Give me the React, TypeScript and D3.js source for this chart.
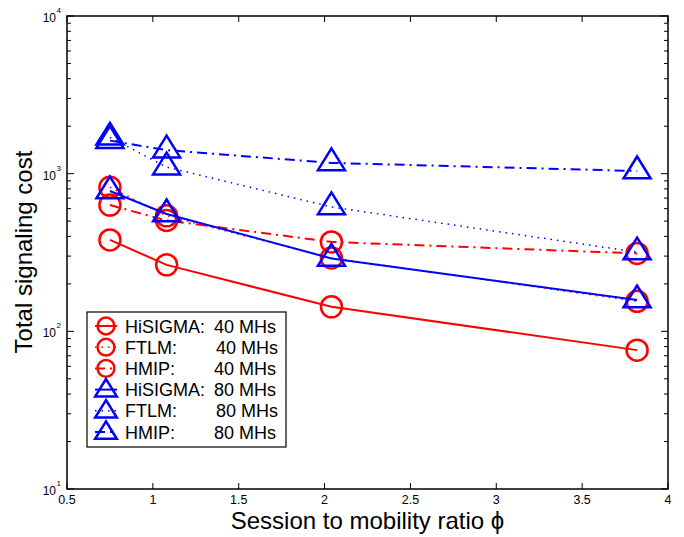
import React from 'react';
import * as d3 from 'd3';

const xValues = [0.75, 1.08, 2.04, 3.82];
const hisigma40 = [380, 264, 143, 76];
const ftlm40 = [820, 540, 292, 155];
const hmip40 = [632, 505, 369, 312];
const hisigma80 = [776, 555, 290, 158];
const ftlm80 = [1700, 1100, 615, 318];
const hmip80 = [1620, 1410, 1170, 1040];

const seriesNames = ['HiSIGMA:', 'FTLM:', 'HMIP:', 'HiSIGMA:', 'FTLM:', 'HMIP:'];
const seriesTags = ['40 MHs', '40 MHs', '40 MHs', '80 MHs', '80 MHs', '80 MHs'];
const xTicks = [0.5, 1, 1.5, 2, 2.5, 3, 3.5, 4];
const xTickLabels = ['0.5', '1', '1.5', '2', '2.5', '3', '3.5', '4'];
const yMajor = [10, 100, 1000, 10000];
const yExponents = ['1', '2', '3', '4'];

const W = 684, H = 537;
const L = 67, R = 668, T = 16, B = 489;
const FONT = '"Liberation Sans", Arial, Helvetica, sans-serif';
const RED = '#ff0000', BLUE = '#0000ff';

type Style = 'solid' | 'dotted' | 'dashdot';
const series = [
  { values: hisigma40, color: RED, style: 'solid' as Style, marker: 'o' },
  { values: ftlm40, color: RED, style: 'dotted' as Style, marker: 'o' },
  { values: hmip40, color: RED, style: 'dashdot' as Style, marker: 'o' },
  { values: hisigma80, color: BLUE, style: 'solid' as Style, marker: '^' },
  { values: ftlm80, color: BLUE, style: 'dotted' as Style, marker: '^' },
  { values: hmip80, color: BLUE, style: 'dashdot' as Style, marker: '^' },
];

function dash(s: Style) {
  if (s === 'dotted') return '1.5,5';
  if (s === 'dashdot') return '10,5,2,5';
  return undefined;
}
function width(s: Style) {
  return s === 'dotted' ? 1.5 : 2;
}

function Marker({ kind, cx, cy, color, scale = 1 }: any) {
  if (kind === 'o') {
    return <circle cx={cx} cy={cy} r={10.5 * scale} fill="none" stroke={color} strokeWidth={2.5} />;
  }
  const r = 14.5 * scale;
  const hw = 13.5 * scale;
  const pts = `${cx},${cy - r} ${cx - hw},${cy + r / 2} ${cx + hw},${cy + r / 2}`;
  return <polygon points={pts} fill="none" stroke={color} strokeWidth={2.5} strokeLinejoin="miter" />;
}

export default function App() {
  const x = d3.scaleLinear().domain([0.5, 4]).range([L, R]);
  const y = d3.scaleLog().domain([10, 10000]).range([B, T]);
  const line = d3.line<[number, number]>().x((d) => x(d[0])).y((d) => y(d[1]));

  const minor: number[] = [];
  for (let dec = 10; dec < 10000; dec *= 10) {
    for (let k = 2; k <= 9; k++) minor.push(dec * k);
  }

  const legX = 87, legY = 312, legW = 199, legH = 135;
  const rowY0 = 326, rowStep = 21.2;

  return (
    <svg width={W} height={H} style={{ position: 'absolute', left: 0, top: 0, background: '#fff' }} fontFamily={FONT}>
      <rect x={0} y={0} width={W} height={H} fill="#fff" />
      {/* ticks */}
      {xTicks.map((t, i) => (
        <g key={'xt' + i}>
          <line x1={x(t)} x2={x(t)} y1={B} y2={B - 6} stroke="#000" strokeWidth={1} />
          <line x1={x(t)} x2={x(t)} y1={T} y2={T + 6} stroke="#000" strokeWidth={1} />
          <text x={x(t)} y={504} fontSize={12.5} textAnchor="middle" fill="#000">{xTickLabels[i]}</text>
        </g>
      ))}
      {yMajor.map((t, i) => (
        <g key={'ym' + i}>
          <line x1={L} x2={L + 7} y1={y(t)} y2={y(t)} stroke="#000" strokeWidth={1} />
          <line x1={R} x2={R - 7} y1={y(t)} y2={y(t)} stroke="#000" strokeWidth={1} />
          <text x={56} y={y(t) + 6} fontSize={12} textAnchor="end" fill="#000">10</text>
          <text x={56.5} y={y(t) - 3} fontSize={8} fill="#000">{yExponents[i]}</text>
        </g>
      ))}
      {minor.map((t, i) => (
        <g key={'yn' + i}>
          <line x1={L} x2={L + 4} y1={y(t)} y2={y(t)} stroke="#000" strokeWidth={1} />
          <line x1={R} x2={R - 4} y1={y(t)} y2={y(t)} stroke="#000" strokeWidth={1} />
        </g>
      ))}
      {/* data */}
      {series.map((s, i) => {
        const pts = xValues.map((xv, j) => [xv, s.values[j]] as [number, number]);
        return (
          <g key={'s' + i}>
            <path d={line(pts) || ''} fill="none" stroke={s.color} strokeWidth={width(s.style)} strokeDasharray={dash(s.style)} />
            {pts.map((p, j) => (
              <Marker key={j} kind={s.marker} cx={x(p[0])} cy={y(p[1])} color={s.color} />
            ))}
          </g>
        );
      })}
      {/* axes box */}
      <rect x={L} y={T} width={R - L} height={B - T} fill="none" stroke="#000" strokeWidth={1.5} />
      {/* legend */}
      <rect x={legX} y={legY} width={legW} height={legH} fill="#fff" stroke="#000" strokeWidth={1.2} />
      {series.map((s, i) => {
        const cy = rowY0 + i * rowStep;
        return (
          <g key={'lg' + i}>
            <line x1={95} x2={117} y1={cy} y2={cy} stroke={s.color} strokeWidth={width(s.style)} strokeDasharray={dash(s.style)} />
            <Marker kind={s.marker} cx={106} cy={cy + (s.marker === '^' ? 1 : 0)} color={s.color} scale={0.8} />
            <text x={125} y={cy + 6.5} fontSize={18} fill="#000">{seriesNames[i]}</text>
            <text x={s.values === ftlm40 || s.values === ftlm80 ? 216 : 214} y={cy + 6.5} fontSize={18} fill="#000">{seriesTags[i]}</text>
          </g>
        );
      })}
      {/* axis labels */}
      <text x={(L + R) / 2} y={529} fontSize={24} textAnchor="middle" fill="#000">Session to mobility ratio ϕ</text>
      <text transform={`translate(32,${252}) rotate(-90)`} fontSize={24} textAnchor="middle" fill="#000">Total signaling cost</text>
    </svg>
  );
}
